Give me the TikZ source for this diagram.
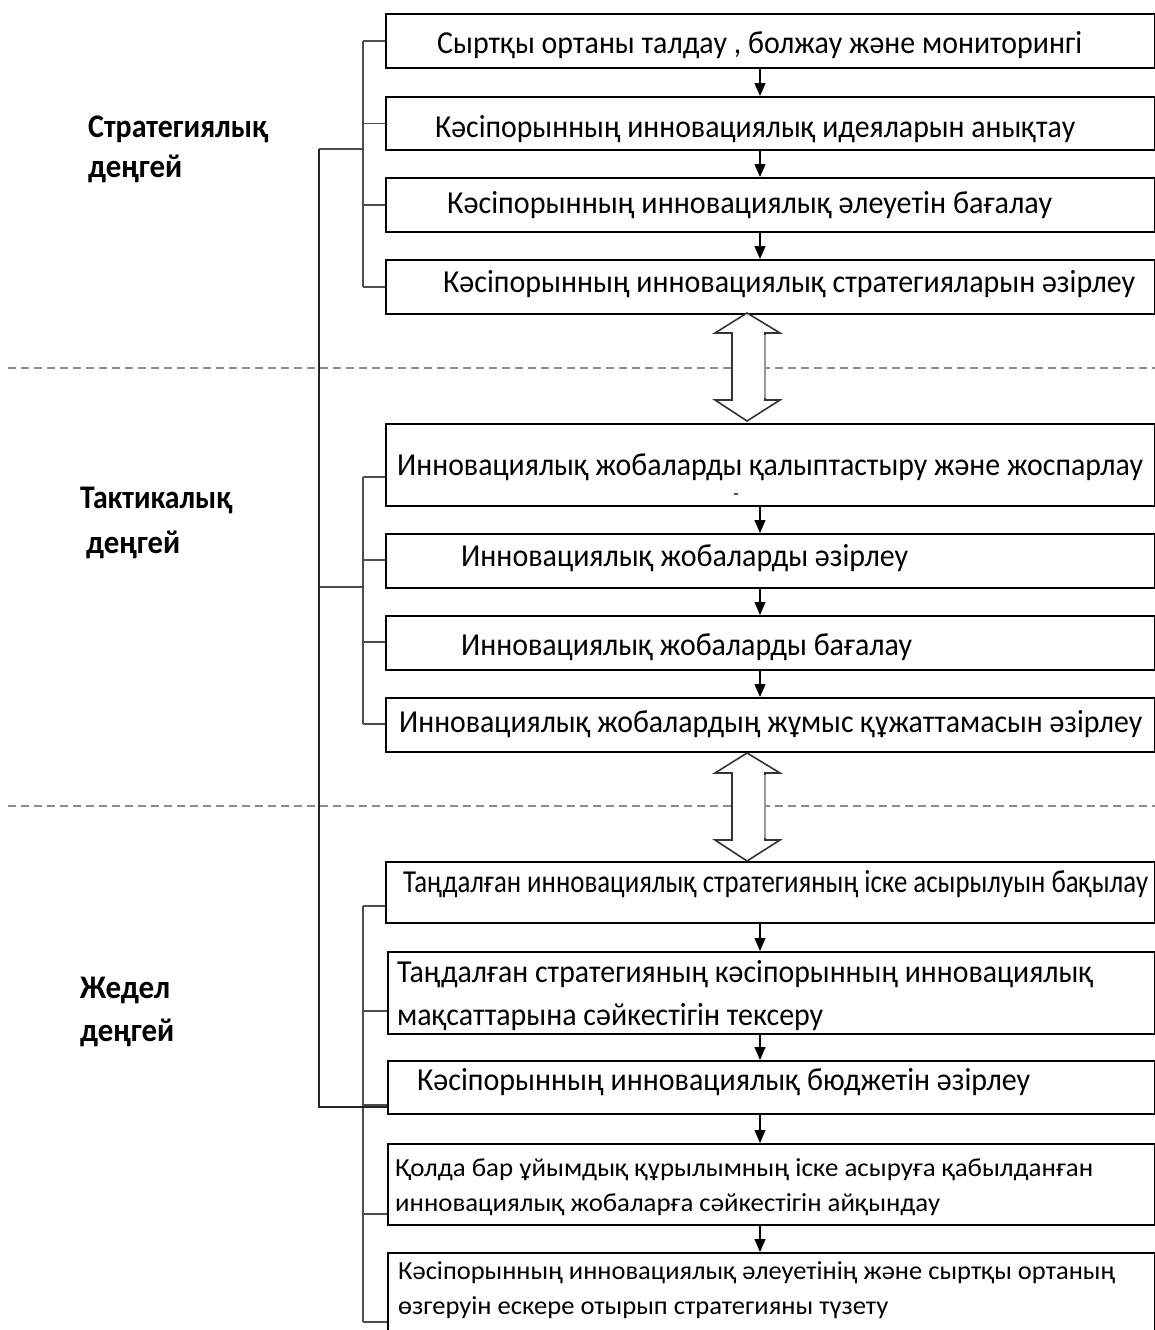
\documentclass[tikz,border=0pt]{standalone}
\usepackage{fontspec}
\setmainfont{Carlito}
\usepackage{graphicx}
\usetikzlibrary{arrows.meta,calc}
\newsavebox\fitbox
\newcommand\fitw[2]{\sbox\fitbox{#2}\pgfmathsetmacro\fx{#1/\the\wd\fitbox}\scalebox{\fx}[1]{\usebox\fitbox}}
\tikzset{
  stepbox/.style={draw=black, line width=2pt, fill=none, inner sep=0pt, anchor=north west},
  txt/.style={anchor=base west, inner sep=0pt, font=\fontsize{32}{38}\selectfont},
  smtxt/.style={anchor=base west, inner sep=0pt, font=\fontsize{26}{30}\selectfont},
  lbl/.style={anchor=base west, inner sep=0pt, font=\fontsize{33}{38}\selectfont\bfseries},
  arr/.style={line width=1.4pt, -{Triangle[width=11pt,length=13pt]}},
  br/.style={line width=1.8pt, draw=black!70},
  outer/.style={line width=2pt, draw=black!85},
  sep/.style={line width=2.6pt, draw=black!45, dash pattern=on 8pt off 5pt},
  dbl/.style={line width=1.6pt, draw=black!80, fill=white, line join=miter}
}
\begin{document}
\begin{tikzpicture}[x=1pt,y=-1pt]
\useasboundingbox (0,0) rectangle (1155,1330);
\clip (0,0) rectangle (1155,1330);
\fill[white] (0,0) rectangle (1155,1330);

% separators
\draw[sep] (8,368) -- (1155,368);
\draw[sep] (8,806) -- (1155,806);

% boxes
\foreach \n/\t/\b/\l in {b1/13/67/385, b2/96/149/385, b3/177/231/385, b4/259/313/385,
  b5/423/505/385, b6/533/587/385, b7/615/669/385, b8/697/751/385,
  b9/861/922/385, b10/951/1033/387, b11/1060/1113/387, b12/1143/1224/387, b13/1252/1360/387}{
  \pgfmathsetmacro\hh{\b-\t}
  \pgfmathsetmacro\ww{1154-\l}
  \node[stepbox, minimum width=\ww pt, minimum height=\hh pt] (\n) at (\l,\t) {};
}

% texts
\node[txt] (t1) at (437,53) {\fitw{645}{Сыртқы ортаны талдау , болжау және мониторингі}};
\node[txt] (t2) at (435,137) {\fitw{640}{Кәсіпорынның инновациялық идеяларын анықтау}};
\node[txt] (t3) at (447,213) {\fitw{605}{Кәсіпорынның инновациялық әлеуетін бағалау}};
\node[txt] (t4) at (443,292) {\fitw{692}{Кәсіпорынның инновациялық стратегияларын әзірлеу}};
\node[txt] (t5) at (397,475) {\fitw{746}{Инновациялық жобаларды қалыптастыру және жоспарлау}};
\node[anchor=base, inner sep=0pt, font=\fontsize{18}{20}\selectfont] (dash) at (736,499) {-};
\node[txt] (t6) at (461,566) {\fitw{447}{Инновациялық жобаларды әзірлеу}};
\node[txt] (t7) at (461,655) {\fitw{451}{Инновациялық жобаларды бағалау}};
\node[txt] (t8) at (399,732) {\fitw{743}{Инновациялық жобалардың жұмыс құжаттамасын әзірлеу}};
\node[txt] (t9) at (403,892) {\fitw{745}{Таңдалған инновациялық стратегияның іске асырылуын бақылау}};
\node[txt] (t10a) at (397,982) {\fitw{696}{Таңдалған стратегияның кәсіпорынның инновациялық}};
\node[txt] (t10b) at (397,1025) {\fitw{426}{мақсаттарына сәйкестігін тексеру}};
\node[txt] (t11) at (417,1090) {\fitw{613}{Кәсіпорынның инновациялық бюджетін әзірлеу}};
\node[smtxt] (t12a) at (395,1176) {\fitw{698}{Қолда бар ұйымдық құрылымның іске асыруға қабылданған}};
\node[smtxt] (t12b) at (395,1211) {\fitw{545}{инновациялық жобаларға сәйкестігін айқындау}};
\node[smtxt] (t13a) at (398,1279) {\fitw{717}{Кәсіпорынның инновациялық әлеуетінің және сыртқы ортаның}};
\node[smtxt] (t13b) at (398,1314) {\fitw{490}{өзгеруін ескере отырып стратегияны түзету}};

% level labels
\node[lbl] (l1a) at (88,137) {\fitw{180}{Стратегиялық}};
\node[lbl] (l1b) at (88,177) {\fitw{94}{деңгей}};
\node[lbl] (l2a) at (80,508) {\fitw{152}{Тактикалық}};
\node[lbl] (l2b) at (86,553) {\fitw{94}{деңгей}};
\node[lbl] (l3a) at (80,998) {\fitw{90}{Жедел}};
\node[lbl] (l3b) at (80,1041) {\fitw{94}{деңгей}};

% flow arrows
\coordinate (ax) at (760,0);
\foreach \a/\b in {b1/b2,b2/b3,b3/b4,b5/b6,b6/b7,b7/b8,b9/b10,b10/b11,b11/b12,b12/b13}{
  \draw[arr] (\a.south -| ax) -- (\b.north -| ax);
}

% double arrows between levels
\foreach \dy in {0,440}{
  \begin{scope}[shift={(0,\dy)}]
  \draw[dbl] (747,313) -- (780,333) -- (765,333) -- (765,400) -- (780,400) -- (747,421)
     -- (715,400) -- (732,400) -- (732,333) -- (715,333) -- cycle;
  \draw[line width=1.6pt, draw=black!40] (765,335) -- (765,398);
  \end{scope}
}

% brackets
\coordinate (sv) at (363,0);
\coordinate (ov) at (319,0);
% strategic
\foreach \n in {b1,b2,b3,b4}{ \draw[br] (\n.west) -- (\n.west -| sv); }
\draw[br] (b1.west -| sv) -- (b4.west -| sv);
\draw[br] (sv |- 0,149) -- (ov |- 0,149);
% tactical
\foreach \n/\y in {b5/477,b6/560,b7/642,b8/724}{ \draw[br] (\n.west |- 0,\y) -- (sv |- 0,\y); }
\draw[br] (sv |- 0,477) -- (sv |- 0,724);
\draw[br] (sv |- 0,587) -- (ov |- 0,587);
% operational
\foreach \n/\y in {b9/906,b10/1011,b11/1105,b12/1214,b13/1322}{ \draw[br] (\n.west |- 0,\y) -- (sv |- 0,\y); }
\draw[br] (sv |- 0,906) -- (sv |- 0,1322);
% outer spine
\draw[outer] (ov |- 0,149) -- (ov |- 0,1107) -- (b11.west |- 0,1107);
\end{tikzpicture}
\end{document}
